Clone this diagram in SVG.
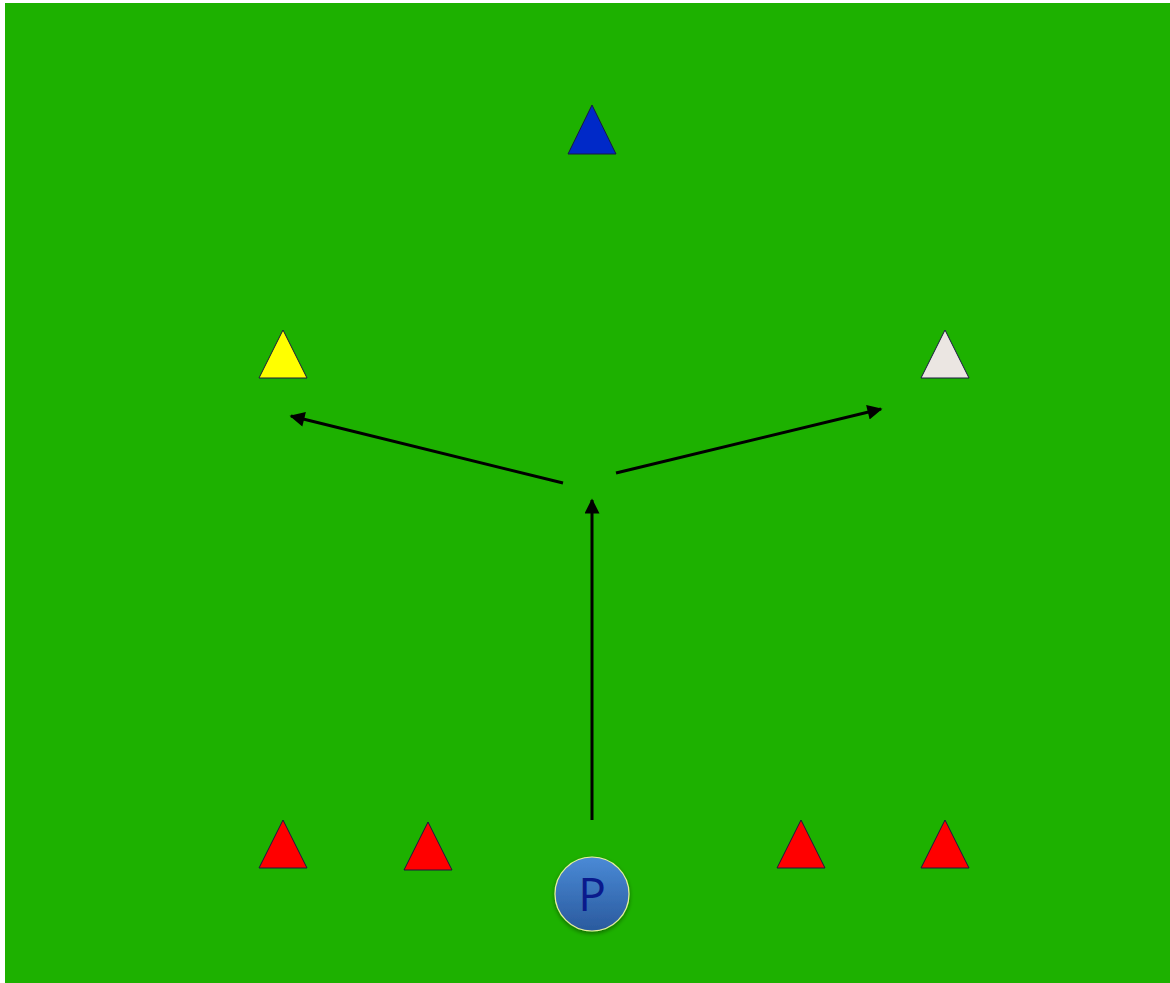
<svg xmlns="http://www.w3.org/2000/svg" width="1170" height="983" viewBox="0 0 1170 983">
<style>
.cone{stroke:#1a1a40;stroke-width:1}
.arrow{stroke:#000;stroke-width:3;fill:none;marker-end:url(#ah)}
</style>
<defs>
<marker id="ah" viewBox="0 0 10 10" refX="9" refY="5" markerWidth="5.5" markerHeight="5" orient="auto" markerUnits="strokeWidth">
<path d="M0,0 L10,5 L0,10 z" fill="#000"/>
</marker>
<linearGradient id="pg" x1="0" y1="0" x2="0" y2="1">
<stop offset="0" stop-color="#4a8ad6"/>
<stop offset="1" stop-color="#2a5a9e"/>
</linearGradient>
<filter id="sh" x="-30%" y="-30%" width="160%" height="160%">
<feDropShadow dx="0" dy="2" stdDeviation="2" flood-color="#000" flood-opacity="0.4"/>
</filter>
</defs>
<rect x="0" y="0" width="1170" height="983" fill="#fff"/>
<rect x="5" y="3" width="1165" height="980" fill="#1db100"/>
<g id="cone-blue"><polygon class="cone" points="592,105 568,154 616,154" fill="#0029c8"/></g>
<g id="cone-yellow"><polygon class="cone" points="283,330 259,378 307,378" fill="#ffff00"/></g>
<g id="cone-white"><polygon class="cone" points="945,330 921,378 969,378" fill="#ebe6e2"/></g>
<g id="cone-red-1"><polygon class="cone" points="283,820 259,868 307,868" fill="#ff0000"/></g>
<g id="cone-red-2"><polygon class="cone" points="428,822 404,870 452,870" fill="#ff0000"/></g>
<g id="cone-red-3"><polygon class="cone" points="801,820 777,868 825,868" fill="#ff0000"/></g>
<g id="cone-red-4"><polygon class="cone" points="945,820 921,868 969,868" fill="#ff0000"/></g>
<g id="connectors">
<line class="arrow" x1="592" y1="820" x2="592" y2="500"/>
<line class="arrow" x1="563" y1="483" x2="291" y2="416"/>
<line class="arrow" x1="616" y1="473" x2="881" y2="409"/>
</g>
<g id="player">
<circle cx="592" cy="894" r="37" fill="url(#pg)" stroke="#e8f0a0" stroke-width="1.2" filter="url(#sh)"/>
<text x="592" y="911" text-anchor="middle" font-family="Open Sans, Liberation Sans, sans-serif" font-size="46" fill="#0a1a8c">P</text>
</g>
</svg>
